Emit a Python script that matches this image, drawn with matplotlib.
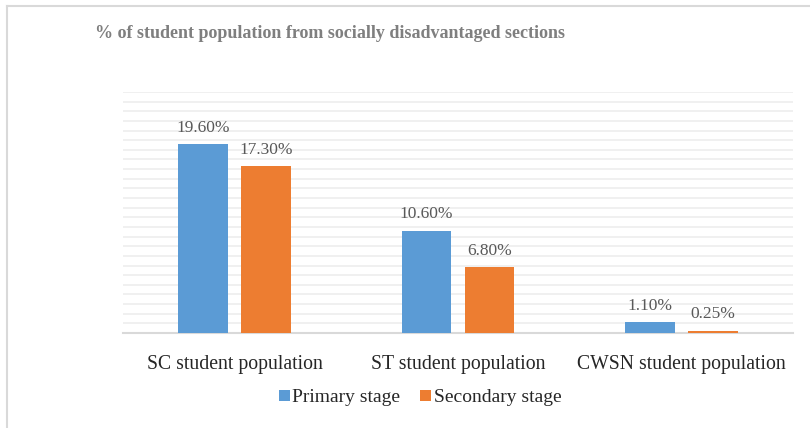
import matplotlib.pyplot as plt
import numpy as np
from matplotlib.lines import Line2D

categories = ["SC student population", "ST student population", "CWSN student population"]
primary = [19.6, 10.6, 1.1]
secondary = [17.3, 6.8, 0.25]
primary_labels = ["19.60%", "10.60%", "1.10%"]
secondary_labels = ["17.30%", "6.80%", "0.25%"]

plt.rcParams['font.family'] = ['Liberation Serif', 'DejaVu Serif']

fig = plt.figure(figsize=(8.1, 4.28), dpi=100)
ax = fig.add_axes([123 / 810, 1 - 333 / 428, 670 / 810, 241 / 428])

x = np.arange(len(categories))
w = 0.223
off = 0.141
b1 = ax.bar(x - off, primary, w, color='#5B9BD5', label='Primary stage', zorder=3)
b2 = ax.bar(x + off, secondary, w, color='#ED7D31', label='Secondary stage', zorder=3)

for bars, labels in ((b1, primary_labels), (b2, secondary_labels)):
    for rect, lab in zip(bars, labels):
        ax.annotate(lab, (rect.get_x() + rect.get_width() / 2, rect.get_height()),
                    xytext=(0, 6), textcoords='offset points', ha='center', va='bottom',
                    fontsize=12.5, color='#595959')

ax.set_xlim(-0.5, 2.5)
ax.set_ylim(0, 25)
ax.set_yticks(np.arange(0, 26, 1))
ax.yaxis.grid(True, color='#F0F0F0', linewidth=1.4, zorder=0)
ax.tick_params(axis='y', left=False, labelleft=False)
ax.tick_params(axis='x', bottom=False, pad=12, labelsize=14.2, labelcolor='#262626')
ax.set_xticks(x)
ax.set_xticklabels(categories)
for s in ['top', 'right', 'left']:
    ax.spines[s].set_visible(False)
ax.spines['bottom'].set_color('#D9D9D9')
ax.spines['bottom'].set_linewidth(1.5)

fig.text(95 / 810, 1 - 33 / 428, "% of student population from socially disadvantaged sections",
         fontsize=13, fontweight='bold', color='#7F7F7F', va='center', ha='left')

ax.legend(loc='center', bbox_to_anchor=(420 / 810, 1 - 398 / 428), bbox_transform=fig.transFigure,
          ncol=2, frameon=False, fontsize=14, handlelength=0.55, handleheight=0.55,
          handletextpad=0.15, columnspacing=1.0, labelcolor='#262626')

fig.add_artist(Line2D([7 / 810, 7 / 810], [0, 1 - 6 / 428], transform=fig.transFigure, color='#D9D9D9', linewidth=1.5))
fig.add_artist(Line2D([7 / 810, 1], [1 - 6 / 428, 1 - 6 / 428], transform=fig.transFigure, color='#D9D9D9', linewidth=1.5))

fig.savefig('out.png', dpi=100)
